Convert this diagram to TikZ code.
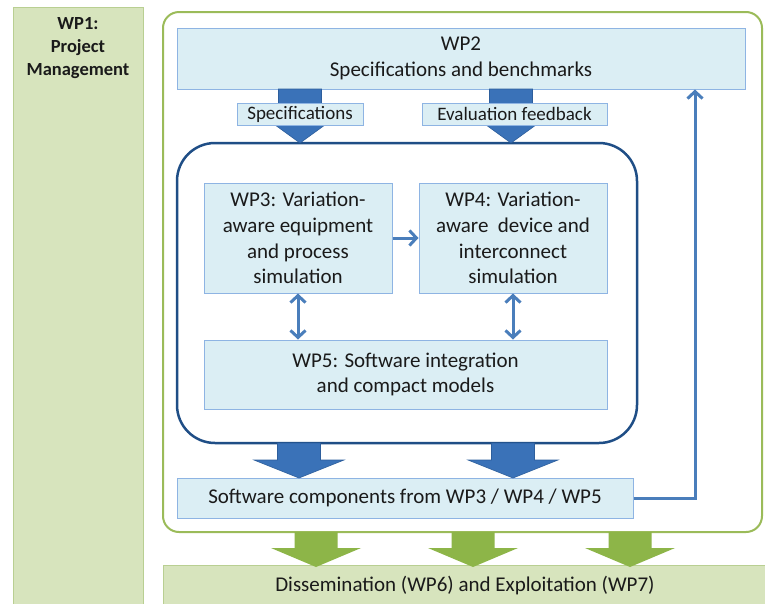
\documentclass[tikz,border=0pt]{standalone}
\usepackage{fontspec}
\setmainfont{Carlito}
\usetikzlibrary{arrows.meta,calc}
\definecolor{lblue}{HTML}{DBEEF4}
\definecolor{lbluebd}{HTML}{8EB4E3}
\definecolor{bblue}{HTML}{3A72B8}
\definecolor{bbluebd}{HTML}{2D5E9C}
\definecolor{dblue}{HTML}{1F4E86}
\definecolor{tblue}{HTML}{4A7EBB}
\definecolor{lgreen}{HTML}{D7E4BD}
\definecolor{lgreenbd}{HTML}{B9CF92}
\definecolor{mgreen}{HTML}{9BBB59}
\definecolor{agreen}{HTML}{8DB548}
\definecolor{txt}{HTML}{1A1A1A}
\tikzset{
  lbox/.style={draw=lbluebd, fill=lblue, line width=1pt, inner sep=0pt, align=center,
    text=txt, font=\fontsize{21}{25.7}\selectfont},
  tagbox/.style={draw=lbluebd, fill=lblue, line width=1pt, inner sep=0pt, align=center,
    text=txt, font=\fontsize{19}{21}\selectfont},
  gbox/.style={draw=lgreenbd, fill=lgreen, line width=1pt, inner sep=0pt, align=center, text=txt},
  thinarrow/.style={draw=tblue, line width=3pt, -{Straight Barb[length=7pt,width=15pt]}},
  thindbl/.style={draw=tblue, line width=3pt,
    {Straight Barb[length=7pt,width=15pt]}-{Straight Barb[length=7pt,width=15pt]}},
  blockblue/.style={fill=bblue, draw=bbluebd, line width=0.6pt},
  blockgreen/.style={fill=agreen},
}
\newcommand\blkarrow[6]{%
  \path[#1] ({#2-21.5},#3) -- ({#2+21.5},#3) -- ({#2+21.5},#4) -- ({#2+#6},#4) -- (#2,#5)
    -- ({#2-#6},#4) -- ({#2-21.5},#4) -- cycle;}
\begin{document}
\begin{tikzpicture}[x=1pt,y=-1pt]
\useasboundingbox (0,0) rectangle (765,603);
\fill[white] (0,0) rectangle (765,603);
% WP1
\node[gbox, minimum width=130, minimum height=603] (wp1) at (78,308.5) {};
\node[anchor=north, align=center, text=txt, font=\bfseries\fontsize{18.5}{23}\selectfont, inner sep=0pt]
  (wp1t) at (78,17) {WP1:\\Project\\Management};
% outer green frame
\node[draw=mgreen, line width=2pt, rounded corners=16pt, minimum width=599, minimum height=520,
  inner sep=0pt] (outer) at (462.5,272) {};
% dissemination
\node[gbox, minimum width=604, minimum height=40, font=\fontsize{21}{25}\selectfont]
  (diss) at (465,585) {Dissemination (WP6) and Exploitation (WP7)};
\blkarrow{blockgreen}{316}{532}{548}{567}{45}
\blkarrow{blockgreen}{473}{532}{548}{567}{45}
\blkarrow{blockgreen}{630}{532}{548}{567}{45}
% inner box
\node[draw=dblue, line width=2.5pt, rounded corners=38pt, fill=white, minimum width=460,
  minimum height=300, inner sep=0pt] (inner) at (407,293) {};
% WP2
\node[lbox, minimum width=568, minimum height=61] (wp2) at (461,58.5)
  {WP2\\Specifications and benchmarks};
\blkarrow{blockblue}{300}{89}{109}{143}{47}
\blkarrow{blockblue}{511}{89}{109}{143}{47}
\node[tagbox, minimum width=126, minimum height=22] (spec) at (300,114) {Specifications};
\node[tagbox, minimum width=185, minimum height=22] (eval) at (514.5,114) {Evaluation feedback};
% WP3-5
\node[lbox, minimum width=188, minimum height=110] (wp3) at (298,238)
  {WP3: Variation-\\aware equipment\\and process\\simulation};
\node[lbox, minimum width=188, minimum height=110] (wp4) at (513,238)
  {WP4: Variation-\\aware~ device and\\interconnect\\simulation};
\node[lbox, minimum width=403, minimum height=69] (wp5) at (405.5,374.5)
  {WP5: Software integration\\and compact models};
\draw[thinarrow] (wp3.east) -- (wp4.west);
\draw[thindbl] (wp3.south) -- (wp5.north -| wp3.south);
\draw[thindbl] (wp4.south) -- (wp5.north -| wp4.south);
% software components
\node[lbox, minimum width=456, minimum height=40] (sw) at (405,498)
  {Software components from WP3 / WP4 / WP5};
\blkarrow{blockblue}{299}{443}{460}{478}{45}
\blkarrow{blockblue}{513}{443}{460}{478}{45}
\coordinate (fb) at (695,498);
\draw[thinarrow] (sw.east) -- (fb) -- (fb |- wp2.south);
\end{tikzpicture}
\end{document}
